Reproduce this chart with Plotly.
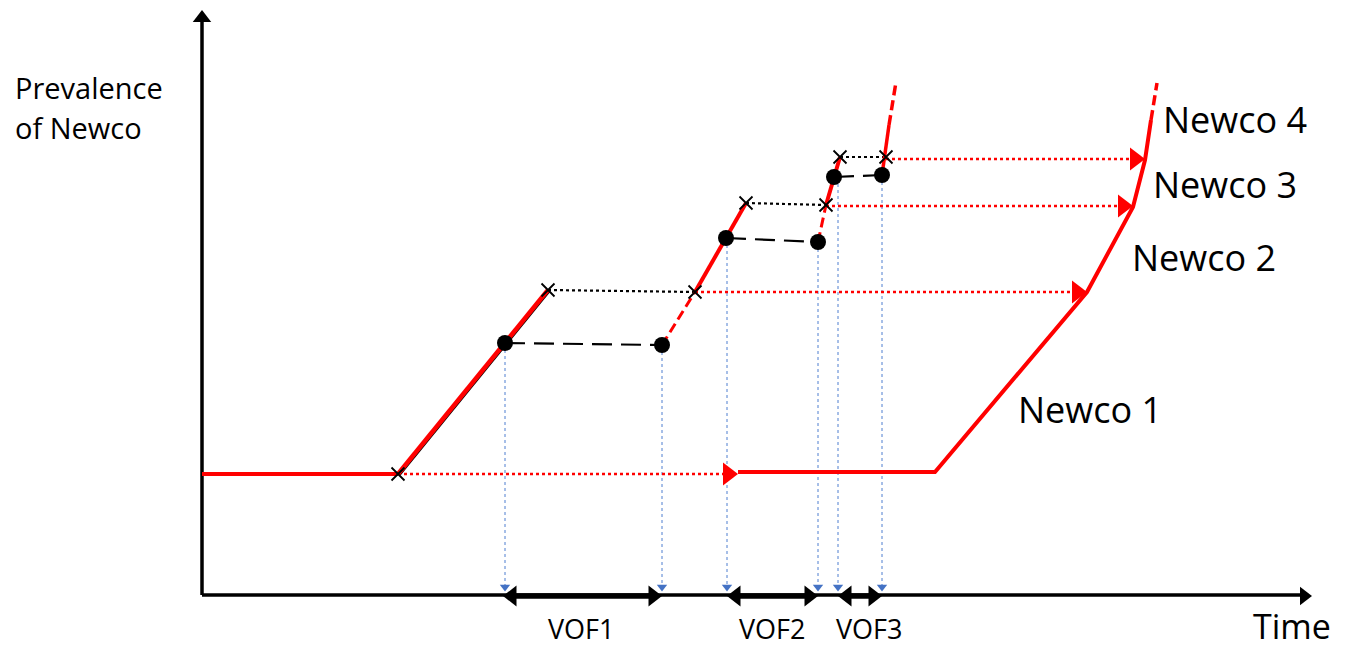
import plotly.graph_objects as go

W, H = 1358, 647
OFF = 8  # page body margin compensation

# ---- axes (diagram coordinates, pixel-like) ----
y_axis_x = [202, 202]
y_axis_y = [595, 22]
x_axis_x = [202, 1300]
x_axis_y = [595, 595]

# ---- red path: first Newco ----
base_x = [202, 398]
base_y = [474, 474]
rise1_x = [398, 548]
rise1_y = [474, 290]
# flat part after the arrow and later rise of the Newco 1..4 curve
later_x = [738, 935, 1087, 1133, 1145, 1151]
later_y = [472, 472, 292, 207, 160, 120]
later_dash_x = [1151, 1157]
later_dash_y = [120, 83]

# middle rises
rise2_dash_x = [662, 695]
rise2_dash_y = [345, 292]
rise2_x = [695, 746]
rise2_y = [292, 203]
rise3_dash_x = [818, 826]
rise3_dash_y = [242, 205]
rise3_x = [826, 840]
rise3_y = [205, 157]
rise4_x = [882, 889]
rise4_y = [175, 125]
rise4_dash_x = [889, 896]
rise4_dash_y = [125, 82]

# ---- markers ----
cross_x = [398, 548, 695, 746, 826, 840, 886]
cross_y = [474, 290, 292, 203, 205, 157, 157]
dot_x = [505, 662, 726, 818, 834, 882]
dot_y = [343, 345, 238, 242, 177, 175]

# black dashed (dot to dot)
dash_pairs = [((505, 343), (662, 345)), ((726, 238), (818, 242)), ((834, 177), (882, 175))]
# black dotted (cross to cross)
dotted_pairs = [((548, 290), (695, 292)), ((746, 203), (826, 205)), ((840, 157), (886, 157))]
# red dotted arrows
red_arrows = [((398, 474), (738, 474)), ((695, 292), (1087, 292)),
              ((826, 206), (1133, 206)), ((886, 159), (1145, 159))]
# blue dotted drops
drop_x = [505, 662, 727, 818, 838, 882]
drop_top = [350, 352, 245, 249, 184, 182]
drop_bottom = 588

# VOF intervals on time axis
vof_start = [503, 727, 838]
vof_end = [662, 818, 882]
vof_labels = ["VOF1", "VOF2", "VOF3"]
vof_label_x = [581, 772, 869]

newco_labels = ["Newco 1", "Newco 2", "Newco 3", "Newco 4"]
newco_label_x = [1016, 1130, 1151, 1161]
newco_label_y = [409, 257, 184, 119]

RED = "#ff0000"
fig = go.Figure()


def line(x, y, color, width, dash="solid"):
    fig.add_trace(go.Scatter(x=x, y=y, mode="lines", hoverinfo="skip",
                             line=dict(color=color, width=width, dash=dash)))


def marker(x, y, symbol, color, size, angle=0):
    fig.add_trace(go.Scatter(x=x, y=y, mode="markers", hoverinfo="skip",
                             marker=dict(symbol=symbol, color=color, size=size, angle=angle,
                                         line=dict(width=0))))


# blue dotted drops
for x0, t in zip(drop_x, drop_top):
    line([x0, x0], [t, drop_bottom], "#4f7fd0", 1, "dot")
marker(drop_x, [587] * len(drop_x), "triangle-down", "#4472c4", 9)

# axes
line(y_axis_x, y_axis_y, "black", 3.5)
line(x_axis_x, x_axis_y, "black", 3.5)
marker([202], [18], "triangle-up", "black", 16)
marker([1304], [596], "triangle-right", "black", 16)

# VOF double arrows
for s, e in zip(vof_start, vof_end):
    line([s + 8, e - 8], [596, 596], "black", 5.5)
marker([v + 9 for v in vof_start], [596] * 3, "triangle-left", "black", 18)
marker([v - 9 for v in vof_end], [596] * 3, "triangle-right", "black", 18)

# red dotted arrows
for (a, b) in red_arrows:
    line([a[0], b[0] - 10], [a[1], b[1]], RED, 2.5, "dot")
marker([b[0] - 10 for _, b in red_arrows], [b[1] for _, b in red_arrows], "triangle-right", RED, 20)

# black dashed / dotted connectors
for a, b in dash_pairs:
    line([a[0], b[0]], [a[1], b[1]], "black", 2.2, "20px,9px")
for a, b in dotted_pairs:
    line([a[0], b[0]], [a[1], b[1]], "black", 2.2, "dot")

# thin black edge under first rise
line([x + 2 for x in rise1_x], [y + 1 for y in rise1_y], "black", 1.5)

# red curve pieces
line(base_x, base_y, RED, 4)
line(rise1_x, rise1_y, RED, 4.5)
line(later_x, later_y, RED, 4)
line(later_dash_x, later_dash_y, RED, 3.5, "10px,5px")
line(rise2_dash_x, rise2_dash_y, RED, 3, "10px,5px")
line(rise2_x, rise2_y, RED, 4)
line(rise3_dash_x, rise3_dash_y, RED, 3, "10px,5px")
line(rise3_x, rise3_y, RED, 4)
line(rise4_x, rise4_y, RED, 3.5)
line(rise4_dash_x, rise4_dash_y, RED, 3.5, "10px,5px")

# markers
marker(dot_x, dot_y, "circle", "black", 16)
fig.add_trace(go.Scatter(x=cross_x, y=cross_y, mode="markers", hoverinfo="skip",
                         marker=dict(symbol="x-thin", size=13, line=dict(color="black", width=1.8))))

FONT = "Open Sans, sans-serif"
ann = []
ann.append(dict(x=13, y=87, text="Prevalence", xanchor="left", yanchor="middle", font=dict(size=29)))
ann.append(dict(x=13, y=127, text="of Newco", xanchor="left", yanchor="middle", font=dict(size=29)))
ann.append(dict(x=1251, y=626, text="Time", xanchor="left", yanchor="middle", font=dict(size=34)))
for t, x0 in zip(vof_labels, vof_label_x):
    ann.append(dict(x=x0, y=628, text=t, xanchor="center", yanchor="middle", font=dict(size=27)))
for t, x0, y0 in zip(newco_labels, newco_label_x, newco_label_y):
    ann.append(dict(x=x0, y=y0, text=t, xanchor="left", yanchor="middle", font=dict(size=36)))
for a in ann:
    a.update(showarrow=False, xref="x", yref="y")
    a["font"].update(family=FONT, color="black")

fig.update_layout(
    width=W, height=H, margin=dict(l=0, r=0, t=0, b=0),
    paper_bgcolor="white", plot_bgcolor="white", showlegend=False,
    xaxis=dict(range=[OFF, W + OFF], visible=False, fixedrange=True),
    yaxis=dict(range=[H + OFF, OFF], visible=False, fixedrange=True),
    annotations=ann,
)
fig.write_html("out.html")
